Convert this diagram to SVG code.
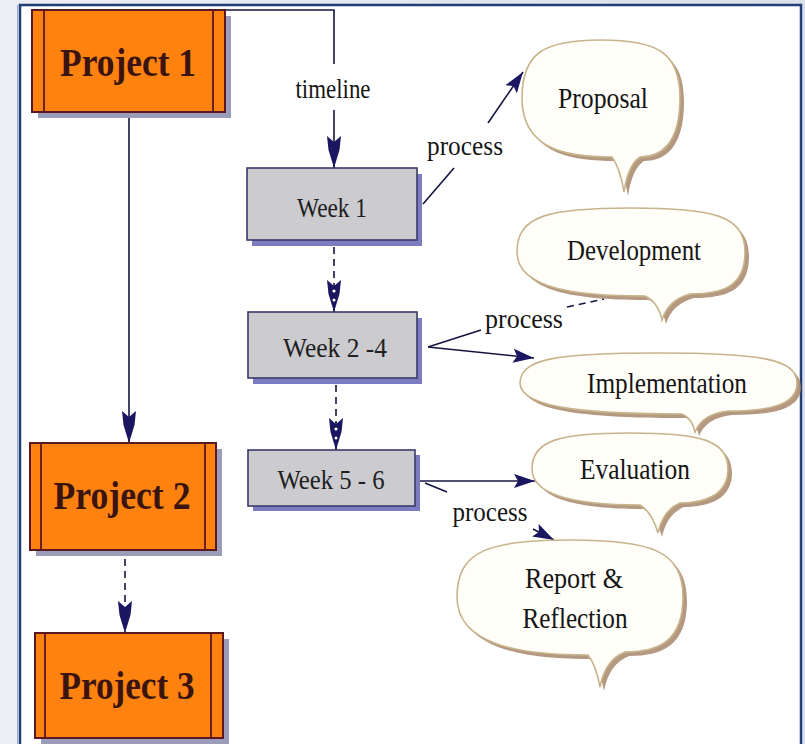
<svg xmlns="http://www.w3.org/2000/svg" width="805" height="744" viewBox="0 0 805 744">
<defs>
<linearGradient id="bg" x1="0" y1="0" x2="1" y2="0">
<stop offset="0" stop-color="#eceef3"/><stop offset="1" stop-color="#dde0e8"/>
</linearGradient>
<marker id="ah" markerUnits="userSpaceOnUse" markerWidth="34" markerHeight="18" refX="32" refY="9" orient="auto">
<path d="M0,2 L14,3.5 L32,9 L14,14.5 L0,16 L6,9 Z" fill="#1a1660"/>
</marker>
<marker id="ahs" markerUnits="userSpaceOnUse" markerWidth="22" markerHeight="18" refX="21" refY="9" orient="auto">
<path d="M0,2 L21,9 L0,16 L4,9 Z" fill="#1a1660"/>
</marker>
<marker id="ahd" markerUnits="userSpaceOnUse" markerWidth="34" markerHeight="18" refX="32" refY="9" orient="auto">
<path d="M0,2 L14,3.5 L32,9 L14,14.5 L0,16 L6,9 Z" fill="#1a1660"/>
<circle cx="11" cy="9" r="1.6" fill="#fff"/><circle cx="20" cy="9" r="1.5" fill="#fff"/>
</marker>
<style>
.frame{fill:#ffffff;stroke:#1f3f78;stroke-width:2.5}
.proj{fill:#fd8210;stroke:#5a1822;stroke-width:2}
.pin{stroke:#5a1822;stroke-width:1.8;fill:none}
.psh{fill:#9a9cb8}
.week{fill:#cbcbd0;stroke:#3a3a6a;stroke-width:1.6}
.wsh{fill:#7c7cc0}
.bub{fill:#fffef9;stroke:#c8b48c;stroke-width:1.6}
.bsh{fill:#a8866a;opacity:0.85}
.ptxt{font-family:"Liberation Serif",serif;font-size:40px;font-weight:bold;fill:#3a1410;text-anchor:middle}
.wtxt{font-family:"Liberation Serif",serif;font-size:28px;fill:#202020;text-anchor:middle}
.btxt{font-family:"Liberation Serif",serif;font-size:29px;fill:#151515;text-anchor:middle}
.ltxt{font-family:"Liberation Serif",serif;font-size:27px;fill:#151515;text-anchor:middle}
.con{fill:none;stroke:#141440;stroke-width:1.6}
.dash{stroke-dasharray:7,5}
</style>
</defs>
<rect x="0" y="0" width="805" height="744" fill="url(#bg)"/>
<rect class="frame" x="20" y="5" width="781" height="745"/>
<line x1="17.5" y1="5" x2="17.5" y2="744" stroke="#9ab0d0" stroke-width="1"/>

<g id="connectors">
<polyline class="con" points="225,10 334,10 334,64"/>
<line class="con" x1="334" y1="110" x2="334" y2="168" marker-end="url(#ah)"/>
<text class="ltxt" x="333" y="98" textLength="75" lengthAdjust="spacingAndGlyphs">timeline</text>
<line class="con" x1="129" y1="118" x2="129" y2="443" marker-end="url(#ah)"/>
<line class="con dash" x1="125" y1="559" x2="125" y2="633" marker-end="url(#ah)"/>
<line class="con dash" x1="334" y1="247" x2="334" y2="312" marker-end="url(#ahd)"/>
<line class="con dash" x1="336" y1="385" x2="336" y2="450" marker-end="url(#ahd)"/>
<line class="con" x1="423" y1="204" x2="454" y2="168"/>
<text class="ltxt" x="465" y="155" textLength="76" lengthAdjust="spacingAndGlyphs">process</text>
<line class="con" x1="488" y1="123" x2="523" y2="72" marker-end="url(#ahs)"/>
<line class="con" x1="428" y1="347" x2="481" y2="330"/>
<text class="ltxt" x="524" y="328" textLength="78" lengthAdjust="spacingAndGlyphs">process</text>
<line class="con dash" x1="567" y1="307" x2="604" y2="299"/>
<line class="con" x1="428" y1="347" x2="534" y2="358" marker-end="url(#ahs)"/>
<line class="con" x1="420" y1="481" x2="535" y2="481" marker-end="url(#ahs)"/>
<line class="con" x1="425" y1="483" x2="447" y2="492"/>
<text class="ltxt" x="490" y="521" textLength="75" lengthAdjust="spacingAndGlyphs">process</text>
<line class="con" x1="533" y1="529" x2="554" y2="540" marker-end="url(#ahs)"/>
</g>

<g id="project1">
<rect class="psh" x="38" y="16" width="193" height="102"/>
<rect class="proj" x="32" y="10" width="193" height="102"/>
<line class="pin" x1="44" y1="10" x2="44" y2="112"/><line class="pin" x1="213" y1="10" x2="213" y2="112"/>
<text class="ptxt" x="128" y="76" textLength="136" lengthAdjust="spacingAndGlyphs">Project 1</text>
</g>
<g id="project2">
<rect class="psh" x="36" y="449" width="186" height="107"/>
<rect class="proj" x="30" y="443" width="186" height="107"/>
<line class="pin" x1="41" y1="443" x2="41" y2="550"/><line class="pin" x1="205" y1="443" x2="205" y2="550"/>
<text class="ptxt" x="122" y="509" textLength="137" lengthAdjust="spacingAndGlyphs">Project 2</text>
</g>
<g id="project3">
<rect class="psh" x="41" y="639" width="188" height="105"/>
<rect class="proj" x="35" y="633" width="188" height="105"/>
<line class="pin" x1="45" y1="633" x2="45" y2="738"/><line class="pin" x1="211" y1="633" x2="211" y2="738"/>
<text class="ptxt" x="127" y="699" textLength="135" lengthAdjust="spacingAndGlyphs">Project 3</text>
</g>

<g id="week1">
<rect class="wsh" x="252" y="174" width="170" height="72"/>
<rect class="week" x="247" y="168" width="170" height="72"/>
<text class="wtxt" x="332" y="217" textLength="70" lengthAdjust="spacingAndGlyphs">Week 1</text>
</g>
<g id="week2-4">
<rect class="wsh" x="253" y="318" width="169" height="66"/>
<rect class="week" x="248" y="312" width="169" height="66"/>
<text class="wtxt" x="335" y="357" textLength="104" lengthAdjust="spacingAndGlyphs">Week 2 -4</text>
</g>
<g id="week5-6">
<rect class="wsh" x="253" y="455" width="167" height="56"/>
<rect class="week" x="248" y="450" width="167" height="56"/>
<text class="wtxt" x="331" y="489" textLength="107" lengthAdjust="spacingAndGlyphs">Week 5 - 6</text>
</g>

<g id="proposal">
<path class="bsh" transform="translate(4,4)" d="M612 157 C567 157 522 150 522 98 C522 52 545 40 601 40 C657 40 680 52 680 98 C680 145 660 157 640 157 Q628 165 624 192 Q620 168 612 157 Z"/>
<path class="bub" d="M612 157 C567 157 522 150 522 98 C522 52 545 40 601 40 C657 40 680 52 680 98 C680 145 660 157 640 157 Q628 165 624 192 Q620 168 612 157 Z"/>
<text class="btxt" x="603" y="108" textLength="90" lengthAdjust="spacingAndGlyphs">Proposal</text>
</g>
<g id="development">
<path class="bsh" transform="translate(4,4)" d="M645 296 C580 296 517 290 517 252 C517 215 550 208 631 208 C712 208 745 215 745 252 C745 285 725 294 690 294 Q668 300 662 320 Q658 302 645 296 Z"/>
<path class="bub" d="M645 296 C580 296 517 290 517 252 C517 215 550 208 631 208 C712 208 745 215 745 252 C745 285 725 294 690 294 Q668 300 662 320 Q658 302 645 296 Z"/>
<text class="btxt" x="634" y="260" textLength="134" lengthAdjust="spacingAndGlyphs">Development</text>
</g>
<g id="implementation">
<path class="bsh" transform="translate(4,4)" d="M682 414 C600 414 520 410 520 383 C520 358 560 353 658 353 C756 353 797 358 797 383 C797 405 770 411 728 411 Q702 414 695 432 Q692 418 682 414 Z"/>
<path class="bub" d="M682 414 C600 414 520 410 520 383 C520 358 560 353 658 353 C756 353 797 358 797 383 C797 405 770 411 728 411 Q702 414 695 432 Q692 418 682 414 Z"/>
<text class="btxt" x="667" y="393" textLength="160" lengthAdjust="spacingAndGlyphs">Implementation</text>
</g>
<g id="evaluation">
<path class="bsh" transform="translate(4,4)" d="M640 505 C585 505 532 498 532 469 C532 440 560 433 630 433 C700 433 728 440 728 469 C728 495 705 503 680 503 Q663 510 658 533 Q652 512 640 505 Z"/>
<path class="bub" d="M640 505 C585 505 532 498 532 469 C532 440 560 433 630 433 C700 433 728 440 728 469 C728 495 705 503 680 503 Q663 510 658 533 Q652 512 640 505 Z"/>
<text class="btxt" x="635" y="479" textLength="110" lengthAdjust="spacingAndGlyphs">Evaluation</text>
</g>
<g id="report">
<path class="bsh" transform="translate(4,4)" d="M588 655 C520 655 457 645 457 597 C457 550 490 540 570 540 C650 540 683 550 683 597 C683 640 660 652 625 652 Q605 660 600 687 Q596 665 588 655 Z"/>
<path class="bub" d="M588 655 C520 655 457 645 457 597 C457 550 490 540 570 540 C650 540 683 550 683 597 C683 640 660 652 625 652 Q605 660 600 687 Q596 665 588 655 Z"/>
<text class="btxt" x="574" y="588" textLength="98" lengthAdjust="spacingAndGlyphs">Report &amp;</text>
<text class="btxt" x="575" y="628" textLength="105" lengthAdjust="spacingAndGlyphs">Reflection</text>
</g>
</svg>
